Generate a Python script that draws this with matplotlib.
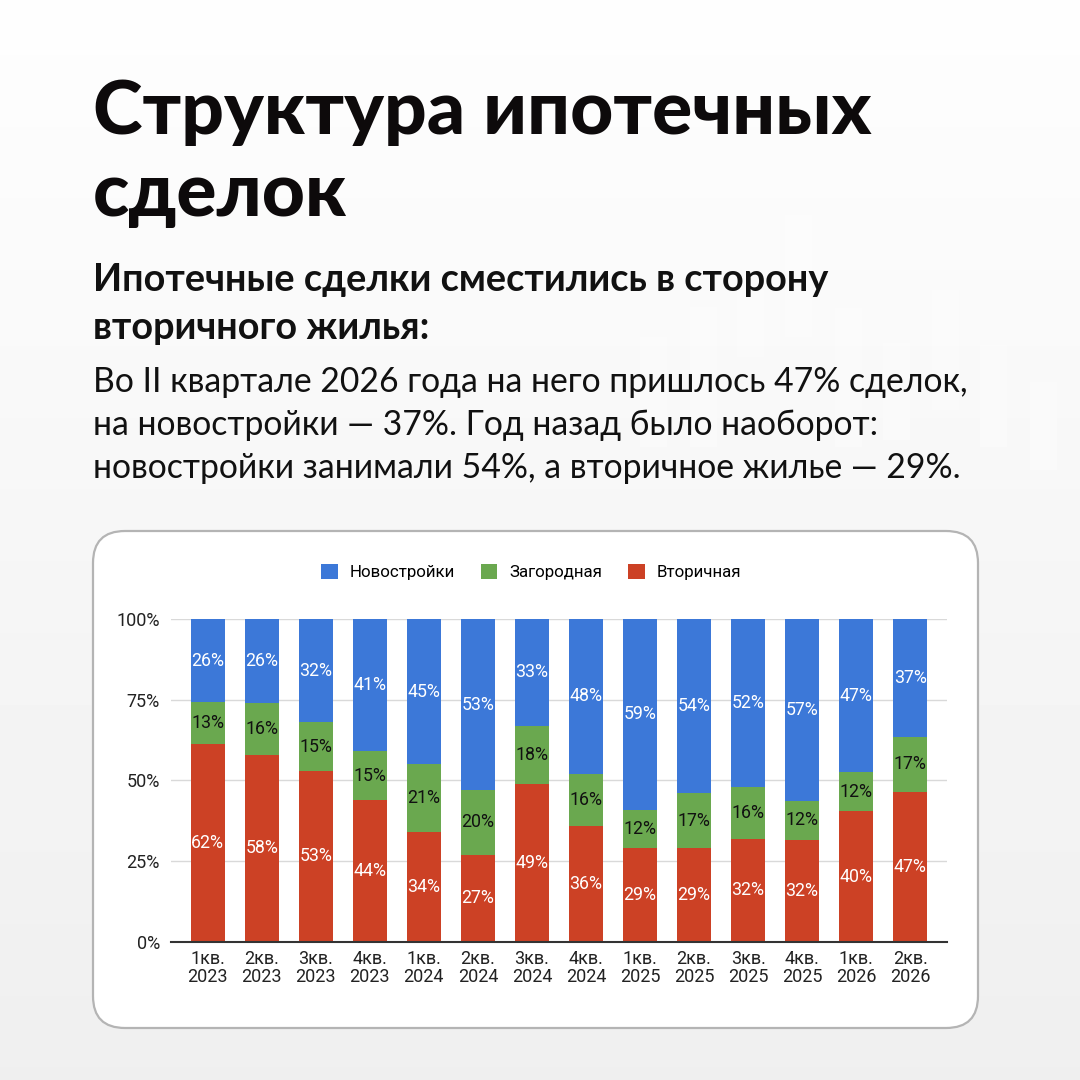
import matplotlib.pyplot as plt
import numpy as np
from matplotlib.patches import FancyBboxPatch, Rectangle, Patch

# Data (values as printed on the chart, shares normalised to 100%)
quarters = ['1кв.\n2023', '2кв.\n2023', '3кв.\n2023', '4кв.\n2023',
            '1кв.\n2024', '2кв.\n2024', '3кв.\n2024', '4кв.\n2024',
            '1кв.\n2025', '2кв.\n2025', '3кв.\n2025', '4кв.\n2025',
            '1кв.\n2026', '2кв.\n2026']
secondary = [62, 58, 53, 44, 34, 27, 49, 36, 29, 29, 32, 32, 40, 47]
country = [13, 16, 15, 15, 21, 20, 18, 16, 12, 17, 16, 12, 12, 17]
new_build = [26, 26, 32, 41, 45, 53, 33, 48, 59, 54, 52, 57, 47, 37]
series_names = ['Новостройки', 'Загородная', 'Вторичная']
yticks = [0, 25, 50, 75, 100]

subtitle = ['Ипотечные сделки сместились в сторону', 'вторичного жилья:']
body = ['Во II квартале 2026 года на него пришлось 47% сделок,',
        'на новостройки — 37%. Год назад было наоборот:',
        'новостройки занимали 54%, а вторичное жилье — 29%.']

BLUE = '#3c78d8'
GREEN = '#6aa84f'
RED = '#cc4125'
HEAD_FONT = ['Lato', 'DejaVu Sans']
CHART_FONT = ['Roboto', 'DejaVu Sans']

fig = plt.figure(figsize=(10.8, 10.8), dpi=100)

# background layer in pixel coordinates
bg = fig.add_axes([0, 0, 1, 1])
bg.set_xlim(0, 1080)
bg.set_ylim(1080, 0)
bg.axis('off')
grad = np.linspace(0.995, 0.937, 256).reshape(-1, 1)
bg.imshow(grad, cmap='gray', vmin=0, vmax=1, extent=[0, 1080, 1080, 0], aspect='auto', zorder=0)

# faint decorative columns behind the text
decor = [(640, 337, 447), (690, 307, 447), (737, 290, 357), (785, 215, 337),
         (835, 308, 447), (883, 343, 440), (932, 290, 410), (980, 345, 447),
         (1030, 382, 470)]
for x0, y0, y1 in decor:
    bg.add_patch(Rectangle((x0, y0), 27, y1 - y0, facecolor='white', alpha=0.3,
                           edgecolor='none', zorder=1))

bg.text(93, 134, 'Структура ипотечных', fontsize=54, fontweight='black',
        family=HEAD_FONT, color='#0d0a0b', va='baseline', zorder=3)
bg.text(93, 216, 'сделок', fontsize=54, fontweight='black',
        family=HEAD_FONT, color='#0d0a0b', va='baseline', zorder=3)
for i, line in enumerate(subtitle):
    bg.text(93, 291 + i * 48, line, fontsize=27.3, fontweight='bold',
            family=HEAD_FONT, color='#111111', va='baseline', zorder=3)
for i, line in enumerate(body):
    bg.text(93, 392 + i * 43, line, fontsize=24.3, fontweight='normal',
            family=HEAD_FONT, color='#111111', va='baseline', zorder=3)

# chart panel
bg.add_patch(FancyBboxPatch((93, 531), 885, 497, boxstyle='round,pad=0,rounding_size=32',
                            facecolor='white', edgecolor='#b4b4b4', linewidth=1.6, zorder=2))

# chart
ax = fig.add_axes([0.1583, 0.1278, 0.7185, 0.2991])
ax.patch.set_alpha(0)
raw = np.array([secondary, country, new_build], dtype=float)
shares = raw / raw.sum(axis=0) * 100
x = np.arange(len(quarters))
width = 0.63
bottom = np.zeros(len(quarters))
layers = [(shares[0], secondary, RED, 'white'),
          (shares[1], country, GREEN, '#111111'),
          (shares[2], new_build, BLUE, 'white')]
for vals, labels, col, tcol in layers:
    ax.bar(x, vals, width, bottom=bottom, color=col, zorder=3)
    for xi, b, v, lab in zip(x, bottom, vals, labels):
        ax.text(xi, b + v / 2, f'{lab}%', ha='center', va='center', color=tcol,
                fontsize=12.8, family=CHART_FONT, zorder=4)
    bottom = bottom + vals

ax.set_xlim(-0.68, len(quarters) - 1 + 0.68)
ax.set_ylim(0, 100)
ax.set_yticks(yticks)
ax.set_yticklabels([f'{t}%' for t in yticks])
ax.set_xticks(x)
ax.set_xticklabels(quarters, linespacing=0.95)
for lbl in ax.get_xticklabels() + ax.get_yticklabels():
    lbl.set_family(CHART_FONT)
    lbl.set_fontsize(13)
    lbl.set_color('#222222')
ax.tick_params(length=0)
ax.tick_params(axis='y', pad=8)
ax.tick_params(axis='x', pad=6)
ax.grid(axis='y', color='#d9d9d9', linewidth=1, zorder=0)
for s in ['top', 'right', 'left']:
    ax.spines[s].set_visible(False)
ax.spines['bottom'].set_color('#333333')
ax.spines['bottom'].set_linewidth(1.5)
ax.spines['bottom'].set_zorder(5)

handles = [Patch(facecolor=BLUE, label=series_names[0]),
           Patch(facecolor=GREEN, label=series_names[1]),
           Patch(facecolor=RED, label=series_names[2])]
fig.legend(handles=handles, loc='center', bbox_to_anchor=(531 / 1080, 1 - 572 / 1080),
           ncol=3, frameon=False, handlelength=1.0, handleheight=1.0, handletextpad=0.7,
           columnspacing=1.5, prop={'family': CHART_FONT, 'size': 12.2})

fig.savefig('out.png', dpi=100)
